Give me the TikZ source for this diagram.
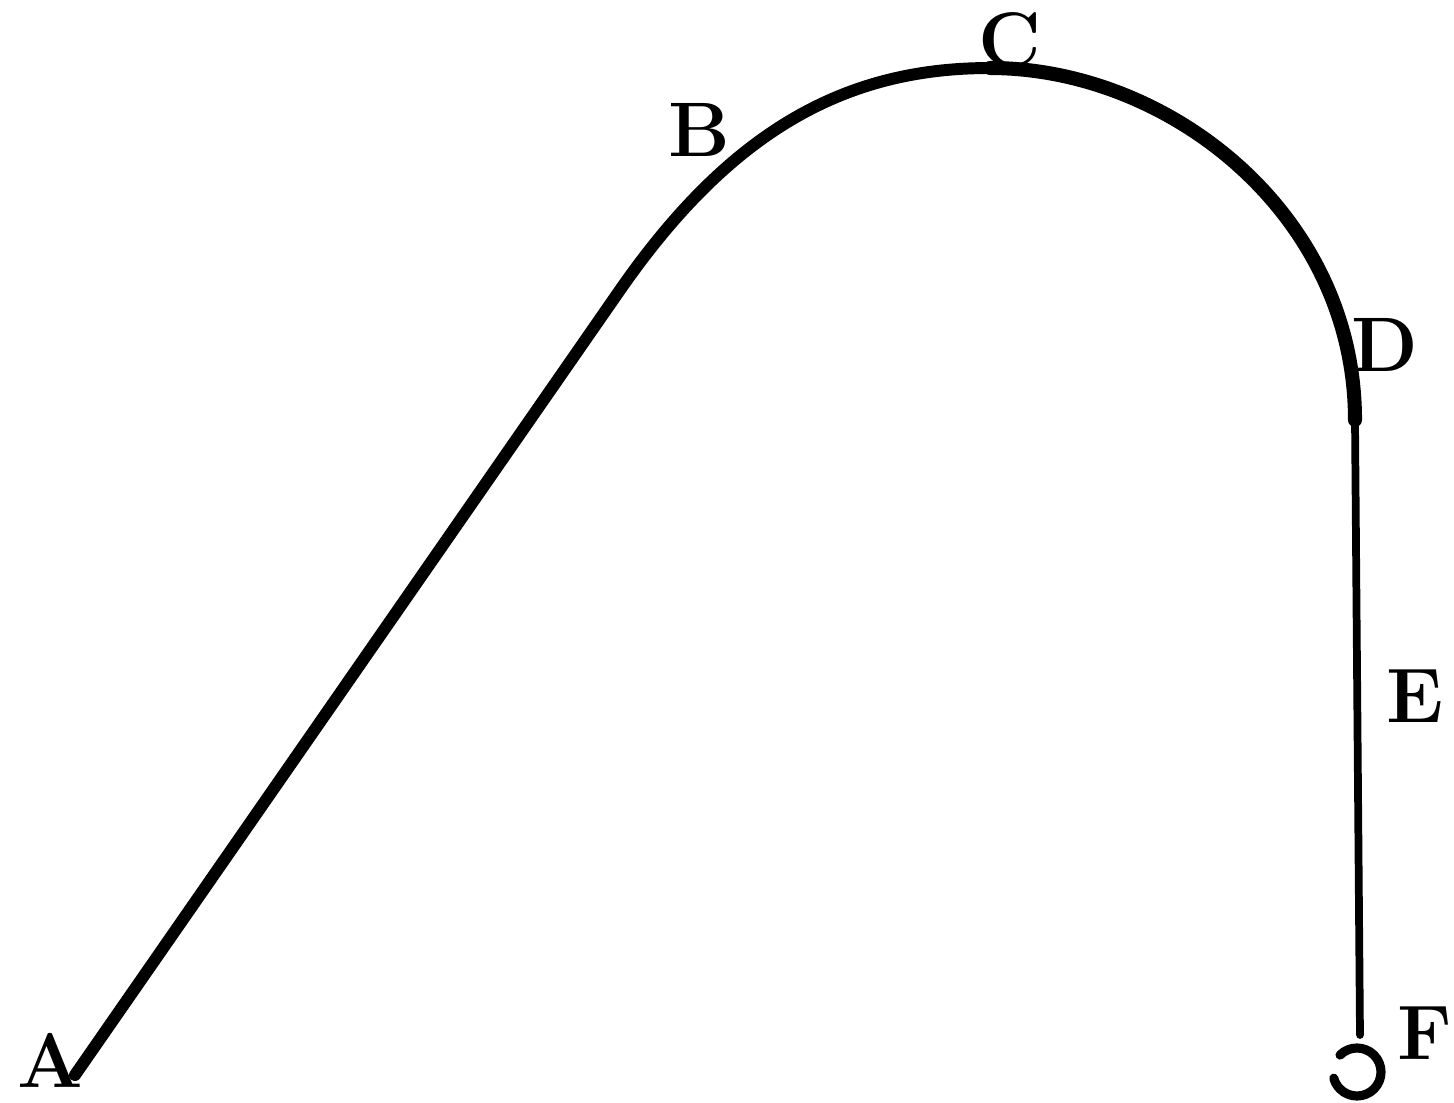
\documentclass[tikz,border=0pt]{standalone}
\begin{document}
\begin{tikzpicture}[x=1cm,y=1cm,
  lbl/.style={font=\fontsize{22}{22}\selectfont\bfseries},
  cord/.style={line cap=round,line join=round}]
  \useasboundingbox (0,0) rectangle (14.54,-11.02);
  \coordinate (a) at (0.75,-10.75);
  \coordinate (k) at (6.20,-2.90);
  \coordinate (top) at (9.90,-0.68);
  \coordinate (d) at (13.55,-4.20);
  \coordinate (f) at (13.60,-10.35);
  \draw[cord,line width=3.4pt] (a) -- (k)
    .. controls (7.34,-1.26) and (8.50,-0.68) .. (top);
  \draw[cord,line width=4pt] (top)
    .. controls (11.70,-0.68) and (13.55,-2.15) .. (d);
  \draw[cord,line width=2.2pt] (d) -- (f);
  \draw[cord,line width=2.6pt] (13.57,-10.72) ++(135:0.24) arc (135:-165:0.24);
  \node[lbl] (A) at (0.50,-10.60) {A};
  \node[lbl] (B) at (6.99,-1.30) {B};
  \node[lbl] (C) at (10.10,-0.40) {C};
  \node[lbl] (D) at (13.85,-3.45) {D};
  \node[lbl] (E) at (14.15,-6.96) {E};
  \node[lbl] (F) at (14.25,-10.33) {F};
\end{tikzpicture}
\end{document}
